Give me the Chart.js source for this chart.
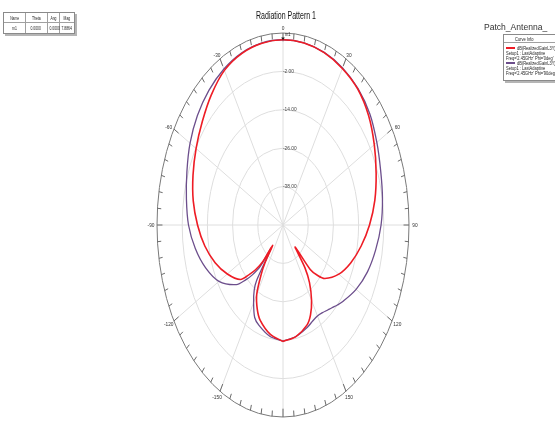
<!DOCTYPE html>
<html>
<head>
<meta charset="utf-8">
<script src="https://cdn.jsdelivr.net/npm/chart.js@4/dist/chart.umd.min.js"></script>
<style>
  html, body { margin: 0; padding: 0; background: #fff; }
  #wrap { position: relative; width: 555px; height: 421px; overflow: hidden; font-family: "Liberation Sans", Arial, sans-serif; }
  #plot { position: absolute; left: 0; top: 0; }
  .t { position: absolute; white-space: nowrap; font-size: 5px; line-height: 6px; color: #222; transform-origin: 0 50%; transform: scaleX(0.8); }
  .box { position: absolute; border: 1px solid #8a8a8a; background: #fff; box-shadow: 2px 2px 0 #b5b5b5; }
  .cell { position: absolute; font-size: 5px; line-height: 6px; color: #222; text-align: center; white-space: nowrap; }
  .cell span { display: inline-block; transform: scaleX(0.68); }
  .vl { position: absolute; width: 1px; background: #a0a0a0; }
  .hl { position: absolute; height: 1px; background: #a0a0a0; }
  .swatch { position: absolute; height: 1.5px; width: 9px; }
</style>
</head>
<body>
<div id="wrap">
  <canvas id="plot" width="555" height="421"></canvas>

  <!-- marker table -->
  <div class="box" style="left:3px;top:12px;width:70px;height:20px;">
    <div class="hl" style="left:0;top:9px;width:70px;"></div>
    <div class="vl" style="left:21px;top:0;height:20px;"></div>
    <div class="vl" style="left:43px;top:0;height:20px;"></div>
    <div class="vl" style="left:55px;top:0;height:20px;"></div>
    <div class="cell" style="left:0;top:2px;width:21px;"><span>Name</span></div>
    <div class="cell" style="left:21px;top:2px;width:22px;"><span>Theta</span></div>
    <div class="cell" style="left:43px;top:2px;width:12px;"><span>Ang</span></div>
    <div class="cell" style="left:55px;top:2px;width:15px;"><span>Mag</span></div>
    <div class="cell" style="left:0;top:12px;width:21px;"><span id="mName"></span></div>
    <div class="cell" style="left:21px;top:12px;width:22px;"><span id="mTheta"></span></div>
    <div class="cell" style="left:43px;top:12px;width:12px;"><span id="mAng"></span></div>
    <div class="cell" style="left:55px;top:12px;width:15px;"><span id="mMag"></span></div>
  </div>

  <!-- curve legend -->
  <div class="t" style="left:484px;top:22px;font-size:9.5px;line-height:10px;color:#333;transform:scaleX(0.9);">Patch_Antenna_</div>
  <div class="box" style="left:503px;top:34px;width:70px;height:45px;">
    <div class="hl" style="left:0;top:7px;width:70px;"></div>
  </div>
  <div class="t" style="left:515px;top:36px;">Curve Info</div>
  <div class="swatch" id="sw0" style="left:506px;top:47px;"></div>
  <div class="t" id="c0a" style="left:517px;top:45px;"></div>
  <div class="t" id="c0b" style="left:506px;top:50px;"></div>
  <div class="t" id="c0c" style="left:506px;top:55px;"></div>
  <div class="swatch" id="sw1" style="left:506px;top:62px;"></div>
  <div class="t" id="c1a" style="left:517px;top:60px;"></div>
  <div class="t" id="c1b" style="left:506px;top:65px;"></div>
  <div class="t" id="c1c" style="left:506px;top:70px;"></div>
</div>

<script>
// Theta (deg) of each sample, 0 at top, clockwise positive
const angles = [-180,-170,-160,-155,-150,-146,-144,-142,-140,-137,-134,-130,-120,-110,-100,-90,-80,-70,-60,-50,-40,-30,-20,-10,0,10,20,30,40,50,60,70,80,90,100,110,120,130,134,137,140,142,145,150,155,160,170,180];

// dB(RealizedGainL3Y), Phi = 0deg
const gainPhi0 = [-13.6,-15.3,-18.3,-21.0,-25.0,-31.5,-35.5,-42.0,-35.0,-31.0,-27.8,-23.5,-19.4,-15.6,-12.2,-9.3,-6.6,-4.4,-2.2,0.2,3.1,5.8,7.1,7.7,7.8864,7.75,7.3,6.5,5.4,3.2,0.2,-2.8,-5.6,-8.8,-12.2,-15.6,-19.3,-24.0,-27.5,-31.0,-41.0,-33.0,-28.0,-22.8,-19.0,-16.7,-14.6,-13.6];

// dB(RealizedGainL3Y), Phi = 90deg
const gainPhi90 = [-13.7,-14.6,-16.6,-18.1,-22.0,-25.5,-28.7,-41.0,-33.0,-28.8,-25.3,-21.0,-14.8,-10.8,-7.6,-5.0,-3.3,-1.3,1.1,3.2,4.9,6.3,7.3,7.8,7.8864,7.8,7.4,6.7,5.6,4.0,1.6,-0.5,-1.9,-3.3,-5.2,-7.2,-9.8,-12.8,-14.0,-14.9,-15.7,-16.1,-16.7,-17.2,-16.8,-16.0,-14.6,-13.7];

// Radial axis: centre value, outer value and labelled rings (dB)
const radialMin = -50;
const radialMax = 10;
const ringLevels = [-38, -26, -14, -2];
const angleTicks = [0, 30, 60, 90, 120, 150, -150, -120, -90, -60, -30];

const seriesNames = ["dB(RealizedGainL3Y)", "dB(RealizedGainL3Y)"];
const seriesSetup = ["Setup1 : LastAdaptive", "Setup1 : LastAdaptive"];
const seriesFreq = ["Freq='2.45GHz' Phi='0deg'", "Freq='2.45GHz' Phi='90deg'"];
const seriesColors = ["#ee1c25", "#6c4e8c"];

// Marker m1
const markerName = "m1";
const markerTheta = 0;
const markerMag = gainPhi0[angles.indexOf(markerTheta)];

const rad = d => d * Math.PI / 180;
function toXY(th, vals) {
  return th.map((t, i) => {
    const r = vals[i] - radialMin;
    return { x: r * Math.sin(rad(t)), y: r * Math.cos(rad(t)) };
  });
}

function drawText(ctx, s, x, y, size, sx, align, color) {
  ctx.save();
  ctx.translate(x, y);
  ctx.scale(sx, 1);
  ctx.font = size + 'px "Liberation Sans", Arial, sans-serif';
  ctx.textAlign = align;
  ctx.textBaseline = 'middle';
  ctx.fillStyle = color;
  ctx.fillText(s, 0, 0);
  ctx.restore();
}

const polarGrid = {
  id: 'polarGrid',
  beforeDatasetsDraw(chart) {
    const { ctx, scales: { x, y } } = chart;
    const cx = x.getPixelForValue(0), cy = y.getPixelForValue(0);
    const R = radialMax - radialMin;
    const sxp = (x.getPixelForValue(R) - cx) / R;
    const syp = (cy - y.getPixelForValue(R)) / R;
    ctx.save();
    // rings
    ctx.strokeStyle = '#dedede';
    ctx.lineWidth = 1;
    ringLevels.forEach(v => {
      const r = v - radialMin;
      ctx.beginPath();
      ctx.ellipse(cx, cy, r * sxp, r * syp, 0, 0, Math.PI * 2);
      ctx.stroke();
    });
    // spokes
    for (let a = 0; a < 360; a += 30) {
      ctx.beginPath();
      ctx.moveTo(cx, cy);
      ctx.lineTo(cx + R * sxp * Math.sin(rad(a)), cy - R * syp * Math.cos(rad(a)));
      ctx.stroke();
    }
    // outer boundary
    ctx.strokeStyle = '#7a7a7a';
    ctx.beginPath();
    ctx.ellipse(cx, cy, R * sxp, R * syp, 0, 0, Math.PI * 2);
    ctx.stroke();
    // angular ticks every 5 deg, pointing inward
    ctx.strokeStyle = '#6a6a6a';
    for (let a = 0; a < 360; a += 5) {
      const len = a % 30 === 0 ? 2.6 : 1.8;
      const s = Math.sin(rad(a)), c = Math.cos(rad(a));
      ctx.beginPath();
      ctx.moveTo(cx + R * sxp * s, cy - R * syp * c);
      ctx.lineTo(cx + (R - len) * sxp * s, cy - (R - len) * syp * c);
      ctx.stroke();
    }
    ctx.restore();
    // ring labels
    ringLevels.forEach(v => {
      const r = v - radialMin;
      drawText(ctx, v.toFixed(2), cx, cy - r * syp, 6, 0.8, 'left', '#444');
    });
    // angle labels
    angleTicks.forEach(a => {
      const s = Math.sin(rad(a)), c = Math.cos(rad(a));
      const px = cx + R * sxp * s + 6 * s;
      const py = cy - R * syp * c - (c > 0 ? 3.5 : 6.5) * c;
      drawText(ctx, String(a), px, a === 0 ? py - 1 : py, 6, 0.8, 'center', '#333');
    });
  },
  afterDraw(chart) {
    const { ctx, scales: { x, y } } = chart;
    const cx = x.getPixelForValue(0);
    // title
    drawText(ctx, 'Radiation Pattern 1', cx + 3, 16, 10, 0.7, 'center', '#111');
    // marker m1 on the Phi=0 curve
    const r = markerMag - radialMin;
    const mx = x.getPixelForValue(r * Math.sin(rad(markerTheta)));
    const my = y.getPixelForValue(r * Math.cos(rad(markerTheta)));
    ctx.save();
    ctx.fillStyle = '#222';
    ctx.beginPath();
    ctx.moveTo(mx - 1.8, my - 2.2);
    ctx.lineTo(mx + 1.8, my - 2.2);
    ctx.lineTo(mx, my + 0.6);
    ctx.closePath();
    ctx.fill();
    ctx.restore();
    drawText(ctx, markerName, mx + 2, my - 5, 5, 0.8, 'left', '#222');
  }
};

new Chart(document.getElementById('plot'), {
  type: 'scatter',
  data: {
    datasets: [
      { label: seriesFreq[0], data: toXY(angles, gainPhi0), borderColor: seriesColors[0], borderWidth: 1.6,
        showLine: true, pointRadius: 0, tension: 0.3, fill: false },
      { label: seriesFreq[1], data: toXY(angles, gainPhi90), borderColor: seriesColors[1], borderWidth: 1.3,
        showLine: true, pointRadius: 0, tension: 0.3, fill: false }
    ]
  },
  options: {
    responsive: false,
    animation: false,
    clip: false,
    layout: { padding: { left: 157, right: 146, top: 33, bottom: 4 } },
    scales: {
      x: { type: 'linear', min: radialMin - radialMax, max: radialMax - radialMin, display: false },
      y: { type: 'linear', min: radialMin - radialMax, max: radialMax - radialMin, display: false }
    },
    plugins: { legend: { display: false }, tooltip: { enabled: false }, title: { display: false } }
  },
  plugins: [polarGrid]
});

// marker table and curve legend text
document.getElementById('mName').textContent = markerName;
document.getElementById('mTheta').textContent = markerTheta.toFixed(4);
document.getElementById('mAng').textContent = markerTheta.toFixed(4);
document.getElementById('mMag').textContent = markerMag.toFixed(4);
[0, 1].forEach(i => {
  document.getElementById('sw' + i).style.background = seriesColors[i];
  document.getElementById('c' + i + 'a').textContent = seriesNames[i];
  document.getElementById('c' + i + 'b').textContent = seriesSetup[i];
  document.getElementById('c' + i + 'c').textContent = seriesFreq[i];
});
</script>
</body>
</html>
